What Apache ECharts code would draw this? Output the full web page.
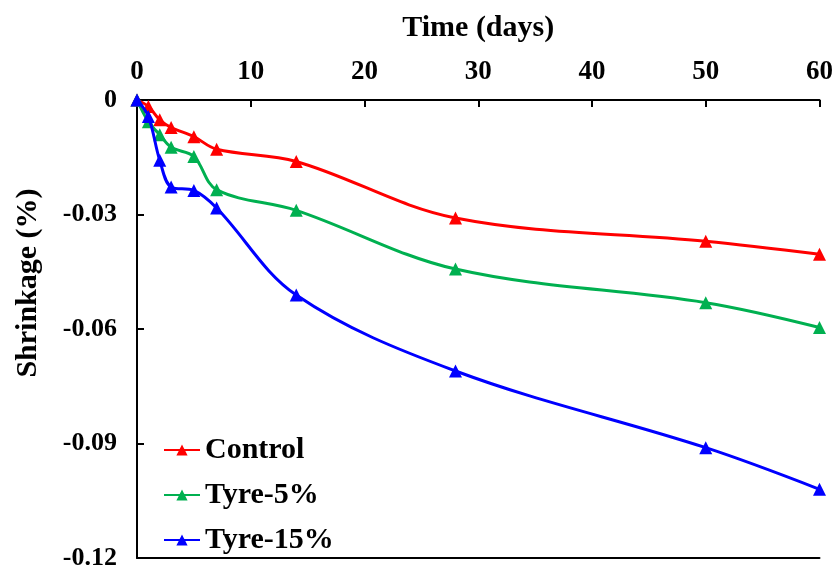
<!DOCTYPE html>
<html>
<head>
<meta charset="utf-8">
<script src="https://cdn.jsdelivr.net/npm/echarts@6/dist/echarts.min.js"></script>
<style>
  html, body { margin: 0; padding: 0; background: #fff; }
  #chart { width: 836px; height: 571px; }
</style>
</head>
<body>
<div id="chart"></div>
<script>
// days of measurement
const days = [0, 1, 2, 3, 5, 7, 14, 28, 50, 60]
// shrinkage (%) per mix
const control = [0, -0.0017, -0.0052, -0.0072, -0.0096, -0.0129, -0.0161, -0.0309, -0.0370, -0.0404]
const tyre5 = [0, -0.0057, -0.0091, -0.0124, -0.0148, -0.0235, -0.0289, -0.0443, -0.0531, -0.0596]
const tyre15 = [0, -0.0043, -0.0158, -0.0228, -0.0237, -0.0283, -0.0511, -0.0710, -0.0911, -0.1020]
const seriesNames = ['Control', 'Tyre-5%', 'Tyre-15%']
const colors = ['#ff0000', '#00b050', '#0000ff']

const font = 'Liberation Serif, Times New Roman, serif'
const pair = arr => days.map((d, i) => [d, arr[i]])

const chart = echarts.init(document.getElementById('chart'))
const option = {
  animation: false,
  grid: { left: 137, right: 13, top: 100, bottom: 12 },
  legend: {
    orient: 'vertical',
    left: 158,
    top: 430,
    itemWidth: 36,
    itemHeight: 14,
    itemGap: 15,
    textStyle: { fontFamily: font, fontWeight: 'bold', fontSize: 30, color: '#000' },
    data: seriesNames
  },
  xAxis: [
    {
      type: 'value',
      position: 'top',
      min: 0,
      max: 60,
      interval: 10,
      name: 'Time (days)',
      nameLocation: 'middle',
      nameGap: 57,
      nameTextStyle: { fontFamily: font, fontWeight: 'bold', fontSize: 30, color: '#000' },
      axisLine: { lineStyle: { color: '#000', width: 2 } },
      axisTick: { inside: true, length: 7, lineStyle: { color: '#000', width: 2 } },
      axisLabel: { fontFamily: font, fontWeight: 'bold', fontSize: 27, color: '#000', margin: 14 },
      splitLine: { show: false }
    },
    {
      type: 'value',
      position: 'bottom',
      min: 0,
      max: 60,
      axisLine: { show: true, lineStyle: { color: '#000', width: 2 } },
      axisTick: { show: false },
      axisLabel: { show: false },
      splitLine: { show: false }
    }
  ],
  yAxis: {
    type: 'value',
    min: -0.12,
    max: 0,
    interval: 0.03,
    name: 'Shrinkage (%)',
    nameLocation: 'middle',
    nameGap: 94,
    nameTextStyle: { fontFamily: font, fontWeight: 'bold', fontSize: 30, color: '#000', padding: [0, 0, 0, 92] },
    axisLine: { show: true, lineStyle: { color: '#000', width: 2 } },
    axisTick: { show: true, inside: true, length: 7, lineStyle: { color: '#000', width: 2 } },
    axisLabel: {
      fontFamily: font, fontWeight: 'bold', fontSize: 26, color: '#000', margin: 20,
      formatter: v => (v === 0 ? '0' : v.toFixed(2))
    },
    splitLine: { show: false }
  },
  series: [control, tyre5, tyre15].map((arr, i) => ({
    name: seriesNames[i],
    type: 'line',
    smooth: 0.35,
    symbol: 'triangle',
    symbolSize: 13,
    itemStyle: { color: colors[i] },
    lineStyle: { width: 3, color: colors[i] },
    z: 2 + i,
    data: pair(arr)
  }))
}
chart.setOption(option)
</script>
</body>
</html>
